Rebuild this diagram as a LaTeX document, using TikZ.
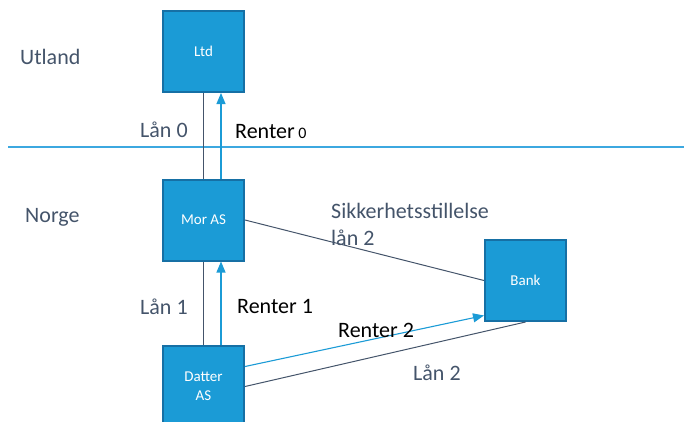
\documentclass[tikz,border=0pt]{standalone}
\usepackage{fontspec}
\setmainfont{Carlito}
\usetikzlibrary{arrows.meta}
\definecolor{boxfill}{RGB}{27,155,214}
\definecolor{boxedge}{RGB}{22,112,165}
\definecolor{slate}{RGB}{68,84,106}
\definecolor{flowblue}{RGB}{27,155,214}
\definecolor{borderblue}{RGB}{60,168,224}
\tikzset{
  entity/.style={draw=boxedge, fill=boxfill, line width=2pt, minimum size=81pt,
    inner sep=0pt, text=white, align=center,
    font=\fontsize{15pt}{19pt}\selectfont},
  loanline/.style={draw=slate, line width=1pt},
  interest/.style={draw=flowblue, line width=1.1pt, -{Triangle[width=9pt,length=11pt]}},
  slatelabel/.style={text=slate, font=\fontsize{22pt}{27pt}\selectfont, inner sep=0pt},
  blacklabel/.style={text=black, font=\fontsize{22pt}{27pt}\selectfont, inner sep=0pt}
}
\begin{document}
\begin{tikzpicture}[x=1pt, y=-1pt]
\useasboundingbox (0,0) rectangle (684,421);

% border between the two countries
\coordinate (bl) at (8,147);
\coordinate (br) at (684,147);
\draw[borderblue, line width=1.2pt] (bl) -- (br);

% region labels
\node[slatelabel, anchor=west] (utland) at (20,57) {Utland};
\node[slatelabel, anchor=west] (norge) at (25,217) {Norge};

% companies
\node[entity] (ltd) at (203.5,51.5) {Ltd};
\node[entity] (mor) at (203.5,220) {Mor AS};
\node[entity] (datter) at (203.5,386.5) {Datter\\AS};
\node[entity] (bank) at (525.5,280.5) {Bank};

% loans and interest between the companies
\draw[loanline] (mor.north) -- (ltd.south);
\draw[interest] ([xshift=17.5pt]mor.north) -- ([xshift=17.5pt]ltd.south);
\draw[loanline] (datter.north) -- (mor.south);
\draw[interest] ([xshift=17.5pt]datter.north) -- ([xshift=17.5pt]mor.south);
\draw[loanline] (mor.east) -- (bank.west);
\draw[interest] ([yshift=20pt]datter.east) -- ([yshift=-35pt]bank.west);
\draw[loanline] (datter.east) -- (bank.south);

% connector labels
\node[slatelabel, anchor=west] (lan0) at (140,130) {Lån 0};
\node[blacklabel, anchor=base west] (renter0) at (235,138) {Renter\,{\fontsize{16pt}{18pt}\selectfont 0}};
\node[slatelabel, anchor=west] (lan1) at (140,307) {Lån 1};
\node[blacklabel, anchor=west] (renter1) at (237,306) {Renter 1};
\node[blacklabel, anchor=west] (renter2) at (338,330) {Renter 2};
\node[slatelabel, anchor=west] (lan2) at (413,373) {Lån 2};
\node[slatelabel, anchor=north west, align=left] (sikk) at (331,203) {Sikkerhetsstillelse\\lån 2};
\end{tikzpicture}
\end{document}
